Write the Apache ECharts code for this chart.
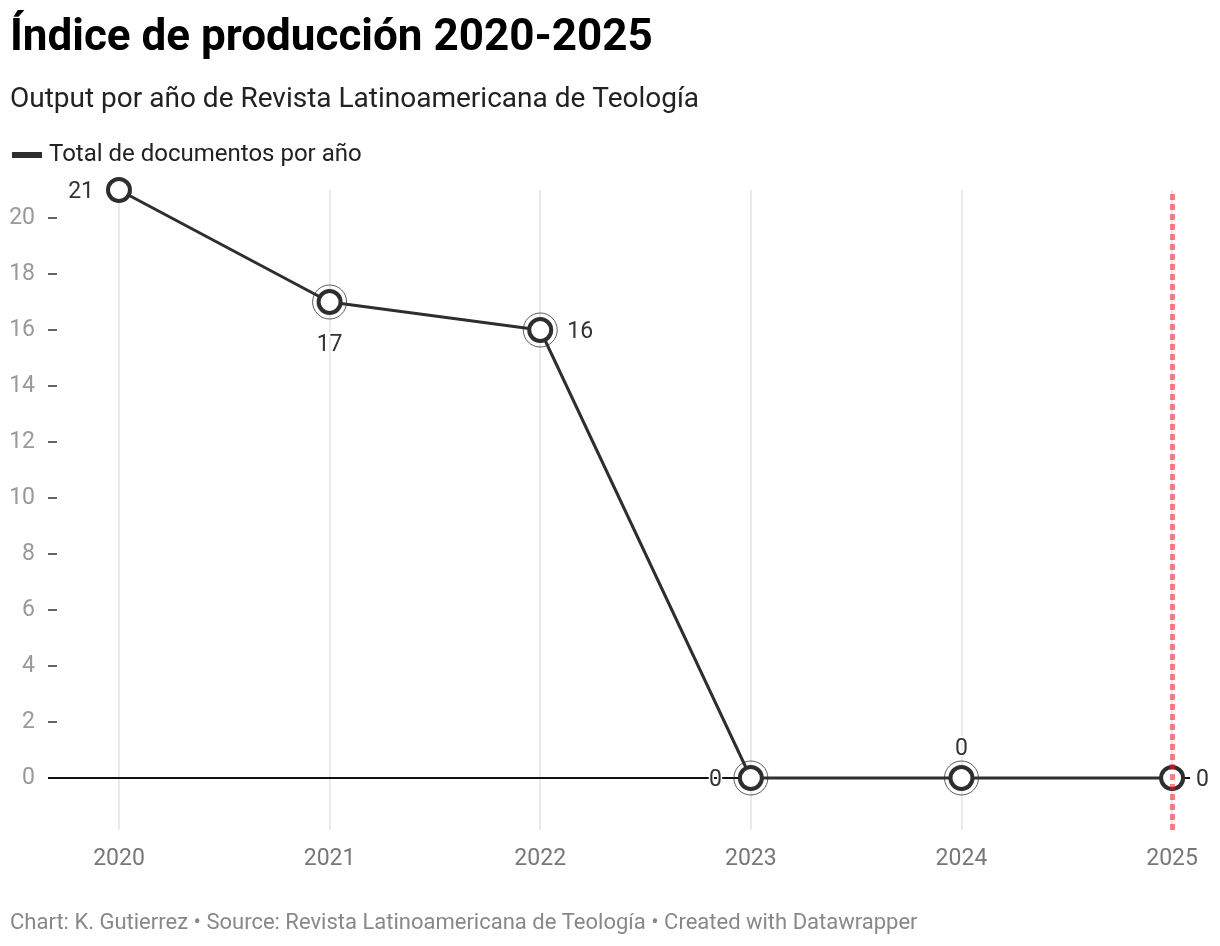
<!DOCTYPE html>
<html>
<head>
<meta charset="utf-8">
<script src="https://cdn.jsdelivr.net/npm/echarts@6/dist/echarts.min.js"></script>
<style>
html,body{margin:0;padding:0;background:#fff;}
#chart{width:1220px;height:946px;}
</style>
</head>
<body>
<div id="chart"></div>
<script>
// ---- data ----
const years = [2020, 2021, 2022, 2023, 2024, 2025];
const totalDocs = [21, 17, 16, 0, 0, 0];
const ringed = [false, true, true, true, true, false];
const yTicks = [0, 2, 4, 6, 8, 10, 12, 14, 16, 18, 20];
const highlightYear = 2025;

const titleText = 'Índice de producción 2020-2025';
const subtitleText = 'Output por año de Revista Latinoamericana de Teología';
const seriesName = 'Total de documentos por año';
const footerText = 'Chart: K. Gutierrez • Source: Revista Latinoamericana de Teología • Created with Datawrapper';

// ---- styling ----
const FONT = 'Roboto, "Noto Sans", sans-serif';
const DARK = '#2e2e2e';
const labelPlacement = ['left', 'bottom', 'right', 'left', 'top', 'right'];
const labelDistance = [12, 17, 14, 16, 6, 11];

const chart = echarts.init(document.getElementById('chart'), null, {renderer: 'canvas'});

const lineData = years.map((y, i) => ({
  value: [y, totalDocs[i]],
  label: {
    show: true,
    position: labelPlacement[i],
    distance: labelDistance[i],
    formatter: String(totalDocs[i]),
    fontFamily: FONT,
    fontSize: 23,
    color: '#333',
    textBorderColor: '#fff',
    textBorderWidth: 3,
    offset: [0, 2]
  }
}));

const ringData = years.map((y, i) => [y, totalDocs[i]]).filter((d, i) => ringed[i]);

const option = {
  backgroundColor: '#fff',
  animation: false,
  textStyle: {fontFamily: FONT},
  title: [
    {text: titleText, left: 10, top: 17, padding: 0,
     textStyle: {fontFamily: FONT, fontSize: 44, fontWeight: 'bold', color: '#000'}},
    {text: subtitleText, left: 10, top: 86, padding: 0,
     textStyle: {fontFamily: FONT, fontSize: 28, fontWeight: 'normal', color: '#222'}},
    {text: footerText, left: 10, top: 912, padding: 0,
     textStyle: {fontFamily: FONT, fontSize: 22, fontWeight: 'normal', color: '#888'}}
  ],
  legend: {
    left: 12, top: 143, padding: 0,
    itemWidth: 28, itemHeight: 4, itemGap: 20,
    icon: 'rect',
    data: [{name: seriesName, icon: 'rect', itemStyle: {color: DARK}}],
    textStyle: {fontFamily: FONT, fontSize: 24, color: '#222', padding: [0, 0, 0, 3]},
    selectedMode: false
  },
  grid: {left: 48, right: 30, top: 190, bottom: 116, containLabel: false, outerBoundsMode: 'none'},
  xAxis: {
    type: 'value',
    min: 2019.663, max: 2025.085,
    axisLine: {show: false},
    axisTick: {show: false},
    splitLine: {show: false},
    axisLabel: {
      customValues: years,
      formatter: v => String(v),
      fontFamily: FONT, fontSize: 23, color: '#777', margin: 18
    }
  },
  yAxis: {
    type: 'value',
    min: -1.857, max: 21,
    axisLine: {show: false},
    splitLine: {show: false},
    axisTick: {show: true, inside: true, length: 9, customValues: yTicks,
               lineStyle: {color: '#333', width: 1.5}},
    axisLabel: {
      customValues: yTicks,
      fontFamily: FONT, fontSize: 23, color: '#999', margin: 13,
      padding: [3, 0, 0, 0]
    }
  },
  series: [
    {
      // vertical gridlines + zero baseline
      type: 'line', data: [], z: 1, silent: true,
      markLine: {
        z: 1,
        silent: true, symbol: 'none', animation: false,
        label: {show: false},
        data: years.map(y => ({xAxis: y, lineStyle: {color: '#e3e3e3', width: 1.5, type: 'solid'}}))
          .concat([{yAxis: 0, lineStyle: {color: '#111', width: 1.8, type: 'solid'}}])
      }
    },
    {
      name: seriesName,
      type: 'line', z: 3,
      data: lineData,
      symbol: 'circle', symbolSize: 22,
      lineStyle: {color: DARK, width: 3},
      itemStyle: {color: '#fff', borderColor: DARK, borderWidth: 4},
      emphasis: {disabled: true}
    },
    {
      type: 'scatter', z: 2, silent: true,
      data: ringData,
      symbol: 'circle', symbolSize: 34,
      itemStyle: {color: 'rgba(255,255,255,0)', borderColor: '#333', borderWidth: 1}
    },
    {
      // highlighted year
      type: 'line', data: [], z: 6, silent: true,
      markLine: {
        z: 10,
        silent: true, symbol: 'none', animation: false,
        label: {show: false},
        data: [{xAxis: highlightYear}],
        lineStyle: {color: 'rgba(237,28,36,0.55)', width: 5, type: [6, 4]}
      }
    }
  ]
};

chart.setOption(option);
</script>
</body>
</html>
